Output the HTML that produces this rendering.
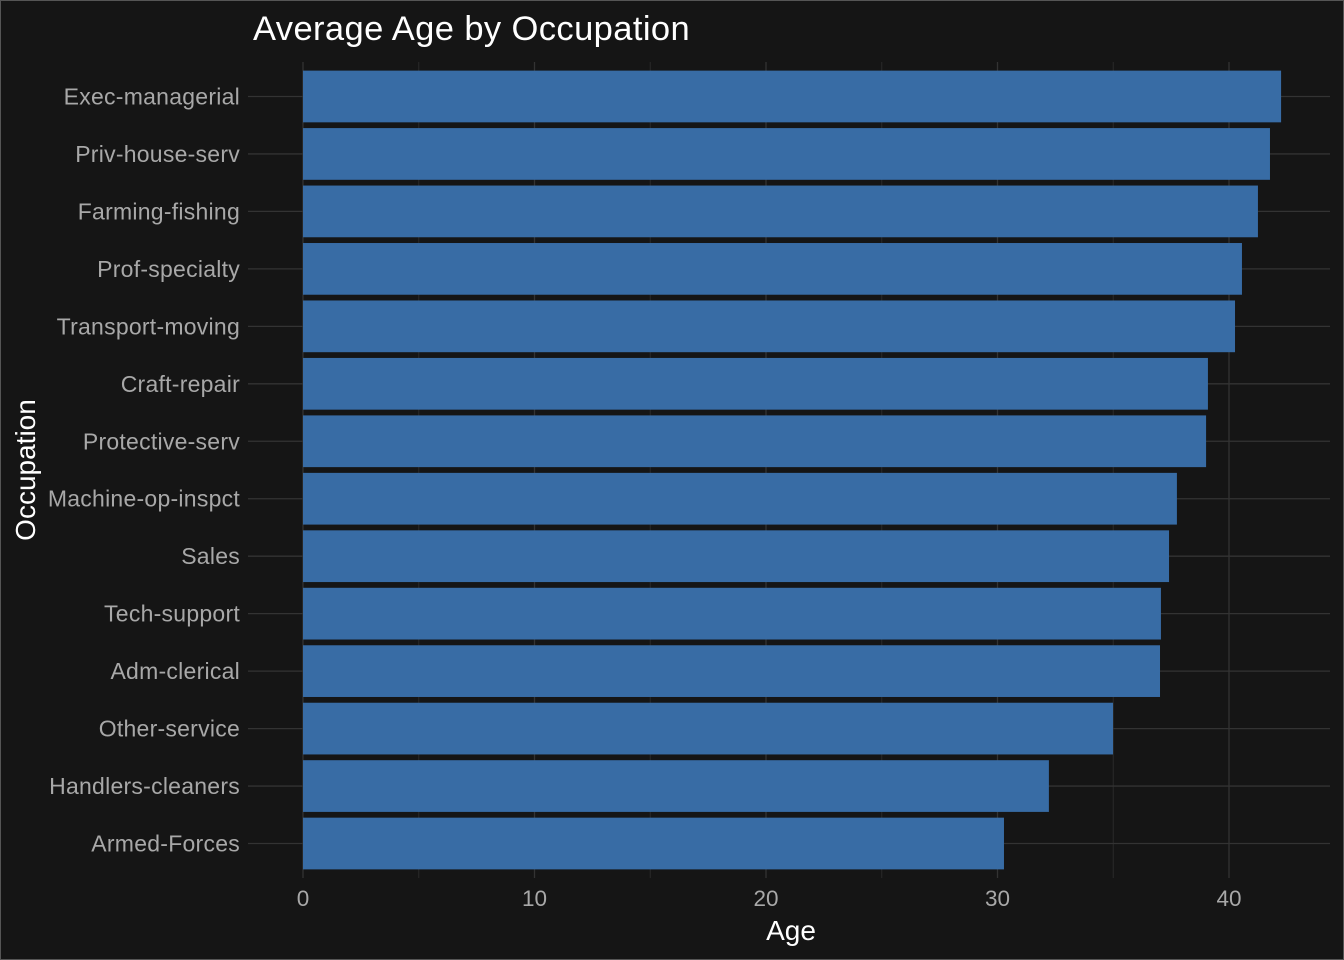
<!DOCTYPE html>
<html><head><meta charset="utf-8"><style>
body{margin:0;background:#151515;}
svg{display:block;font-family:"Liberation Sans",Arial,sans-serif;}
</style></head><body>
<svg id="chart" width="1344" height="960">
<rect x="0.5" y="0.5" width="1343" height="959" fill="#151515" stroke="#555"/>
<text x="253" y="40" font-size="34.5" letter-spacing="0.4" fill="#ffffff">Average Age by Occupation</text>
<text x="791" y="940" font-size="28" fill="#ffffff" text-anchor="middle">Age</text>
<text transform="translate(35,470) rotate(-90)" font-size="28" fill="#ffffff" text-anchor="middle">Occupation</text>
<g id="grid"></g><g id="bars"></g><g id="ylab"></g><g id="xlab"></g>
</svg>
<script>
const categories=["Exec-managerial","Priv-house-serv","Farming-fishing","Prof-specialty","Transport-moving","Craft-repair","Protective-serv","Machine-op-inspct","Sales","Tech-support","Adm-clerical","Other-service","Handlers-cleaners","Armed-Forces"];
const ages=[42.25,41.77,41.25,40.56,40.26,39.09,39.01,37.75,37.41,37.06,37.02,34.99,32.22,30.28];
const xTicks=[0,10,20,30,40];
const xMinor=[5,15,25,35];
const NS="http://www.w3.org/2000/svg";
const pL=248,pR=1330,pT=62,pB=878;
const x=v=>303+v*23.15;
const step=(pB-pT)/(categories.length-1+1.2);
const y=i=>pT+step*(0.6+i);
function mk(t,a,p){const e=document.createElementNS(NS,t);for(const k in a)e.setAttribute(k,a[k]);p.appendChild(e);return e;}
const grid=document.getElementById('grid'),bars=document.getElementById('bars'),yl=document.getElementById('ylab'),xl=document.getElementById('xlab');
xMinor.forEach(v=>{const l=mk('line',{x1:x(v),x2:x(v),y1:pT,y2:pB,stroke:'#2a2a2a','stroke-width':1},grid);

});
xTicks.forEach(v=>{const l=mk('line',{x1:x(v),x2:x(v),y1:pT,y2:pB,stroke:'#333','stroke-width':1.3},grid);


const t=mk('text',{x:x(v),y:906,'font-size':22.5,fill:'#a8a8a8','text-anchor':'middle'},xl);t.textContent=v;

});
categories.forEach((c,i)=>{const l=mk('line',{x1:pL,x2:pR,y1:y(i),y2:y(i),stroke:'#333','stroke-width':1.3},grid);


const h=step*0.9;
const r=mk('rect',{x:x(0),y:y(i)-h/2,width:x(ages[i])-x(0),height:h,fill:'#386ca5'},bars);


const t=mk('text',{x:240,y:y(i)+8,'font-size':23,'letter-spacing':0.25,fill:'#a8a8a8','text-anchor':'end'},yl);t.textContent=c;

});
</script>
</body></html>
